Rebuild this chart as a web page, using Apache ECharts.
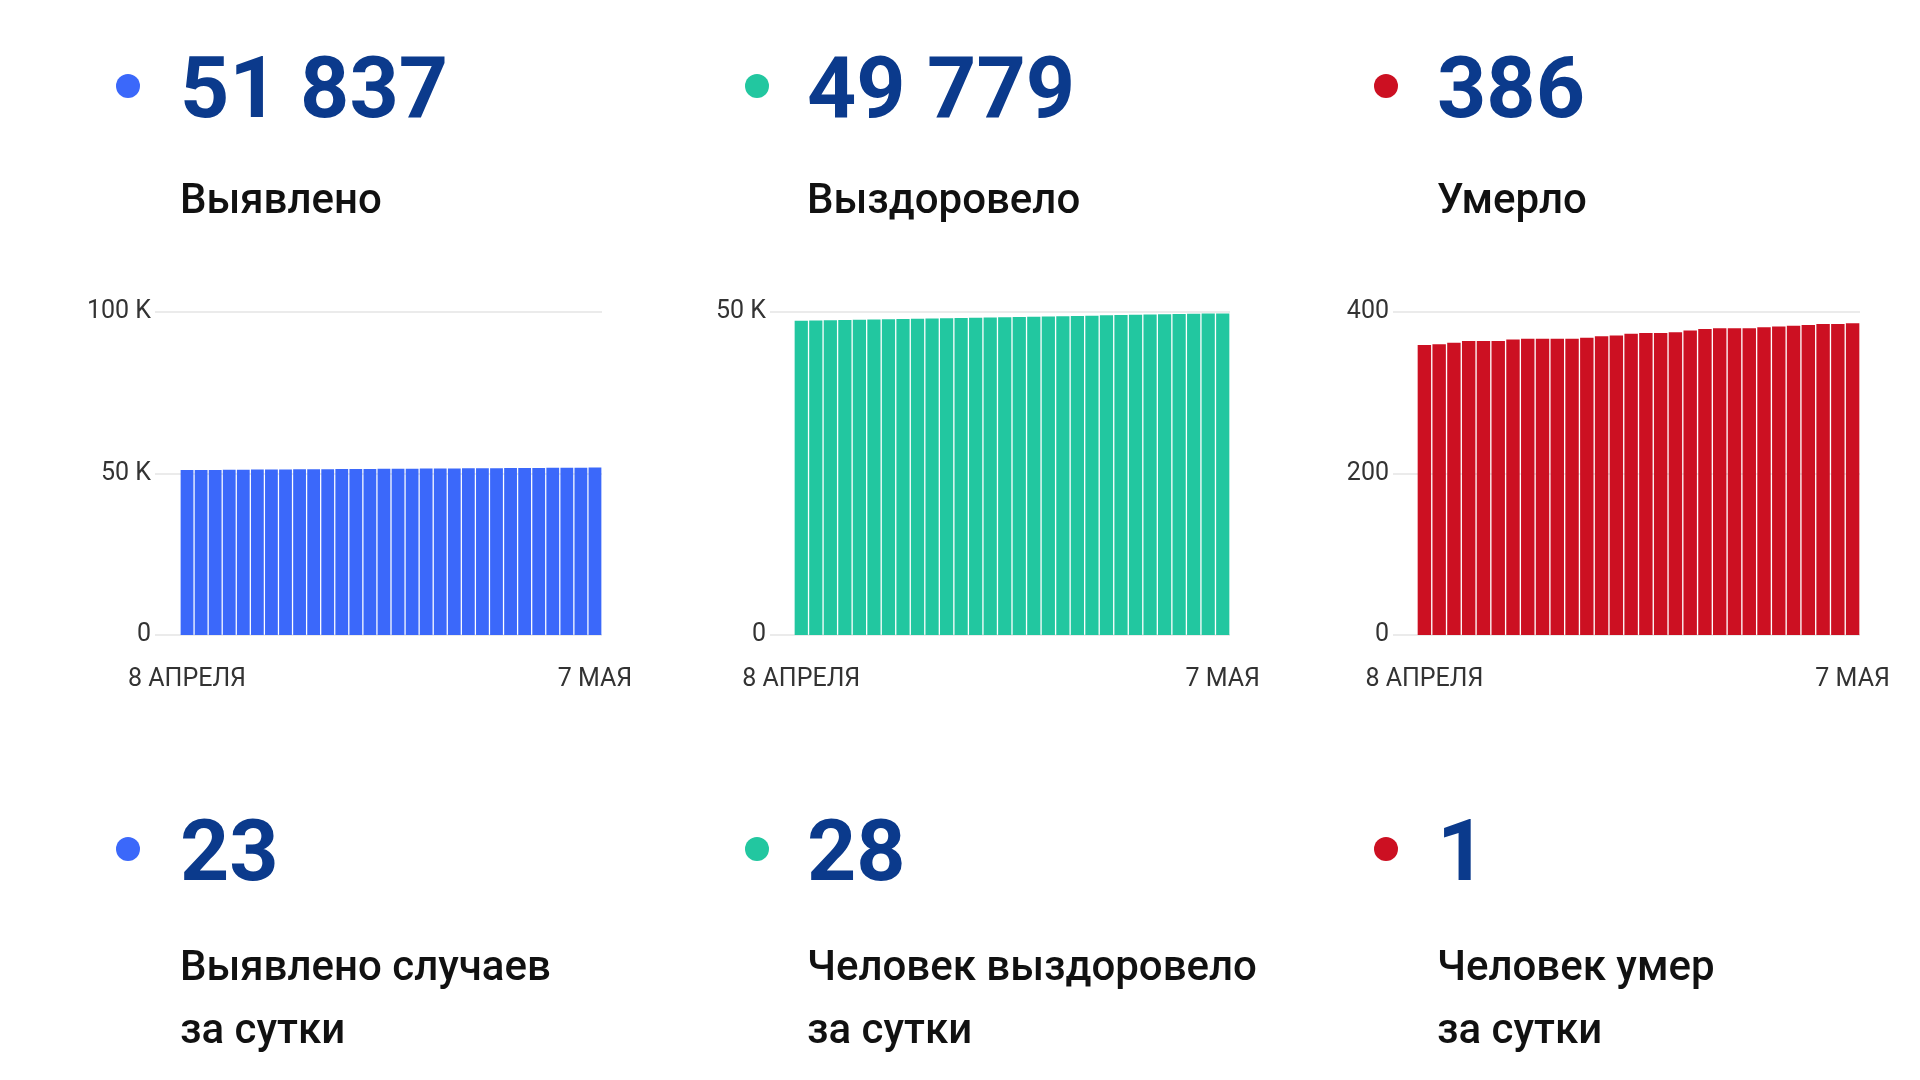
<!DOCTYPE html>
<html>
<head>
<meta charset="utf-8">
<script src="https://cdn.jsdelivr.net/npm/echarts@6/dist/echarts.min.js"></script>
<style>
html,body{margin:0;padding:0;background:#fff;}
#chart{width:1920px;height:1080px;}
</style>
</head>
<body>
<div id="chart"></div>
<script>
// ---- data ----
const dates = [
  '8 АПРЕЛЯ','9 АПРЕЛЯ','10 АПРЕЛЯ','11 АПРЕЛЯ','12 АПРЕЛЯ','13 АПРЕЛЯ','14 АПРЕЛЯ','15 АПРЕЛЯ',
  '16 АПРЕЛЯ','17 АПРЕЛЯ','18 АПРЕЛЯ','19 АПРЕЛЯ','20 АПРЕЛЯ','21 АПРЕЛЯ','22 АПРЕЛЯ','23 АПРЕЛЯ',
  '24 АПРЕЛЯ','25 АПРЕЛЯ','26 АПРЕЛЯ','27 АПРЕЛЯ','28 АПРЕЛЯ','29 АПРЕЛЯ','30 АПРЕЛЯ',
  '1 МАЯ','2 МАЯ','3 МАЯ','4 МАЯ','5 МАЯ','6 МАЯ','7 МАЯ'
];
const detected = [51065,51094,51120,51147,51175,51201,51228,51256,51281,51308,51334,51363,51390,51416,51444,
  51471,51496,51523,51551,51577,51604,51633,51659,51684,51711,51739,51765,51790,51814,51837];
const recovered = [48629,48673,48712,48753,48796,48834,48874,48916,48955,48996,49033,49078,49118,49156,49198,
  49237,49278,49321,49357,49397,49435,49479,49518,49560,49597,49637,49678,49716,49751,49779];
const died = [359,360,362,364,364,364,366,367,367,367,367,368,370,371,373,374,374,375,377,379,380,380,380,381,
  382,383,384,385,385,386];

const totalValues = ['51 837','49 779','386'];
const totalLabels = ['Выявлено','Выздоровело','Умерло'];
const dailyValues = ['23','28','1'];
const dailyLabels = [['Выявлено случаев','за сутки'],['Человек выздоровело','за сутки'],['Человек умер','за сутки']];
const yTicks1 = {max:100000, interval:50000};
const yTicks2 = {max:50000, interval:50000};
const yTicks3 = {max:400, interval:200};

// ---- style/layout ----
const colors = ['#3b68fa','#22c7a0','#cc1022'];
const numColor = '#0b3a8c';
const FONT = 'Roboto';
const cols = [
  {dot:128, text:180, gridLine:155, barL:180, barR:602},
  {dot:757, text:807, gridLine:770, barL:794, barR:1230},
  {dot:1386, text:1437, gridLine:1393, barL:1417, barR:1860}
];
const gTop = 312, gH = 323;
const ticks = [yTicks1, yTicks2, yTicks3];
const seriesData = [detected, recovered, died];

const grids = [], xAxes = [], yAxes = [], series = [];
cols.forEach((c, i) => {
  grids.push({left:c.gridLine, top:gTop, width:c.barR - c.gridLine, height:gH});
  xAxes.push({gridIndex:2*i, type:'value', show:false});
  yAxes.push({gridIndex:2*i, type:'value', min:0, max:ticks[i].max, interval:ticks[i].interval,
    axisLine:{show:false}, axisTick:{show:false},
    splitLine:{lineStyle:{color:'#ebebeb', width:2}},
    axisLabel:{color:'#333', fontFamily:FONT, fontSize:25, margin:4, padding:[4,0,0,0],
      formatter: v => (i < 2 && v > 0) ? (v/1000) + ' K' : String(v)}});
  grids.push({left:c.barL, top:gTop, width:c.barR - c.barL, height:gH});
  xAxes.push({gridIndex:2*i+1, type:'category', data:dates,
    axisLine:{show:false}, axisTick:{show:false},
    axisLabel:{color:'#333', fontFamily:FONT, fontSize:25, margin:32,
      interval:(idx) => idx === 0 || idx === dates.length - 1, hideOverlap:false}});
  yAxes.push({gridIndex:2*i+1, type:'value', min:0, max:ticks[i].max, show:false, splitLine:{show:false}});
  series.push({type:'bar', xAxisIndex:2*i+1, yAxisIndex:2*i+1, data:seriesData[i],
    barCategoryGap:'9%', itemStyle:{color:colors[i]}, silent:true});
});

const graphic = [];
cols.forEach((c, i) => {
  graphic.push({type:'circle', shape:{cx:c.dot, cy:86, r:12}, style:{fill:colors[i]}});
  graphic.push({type:'circle', shape:{cx:c.dot, cy:849, r:12}, style:{fill:colors[i]}});
  graphic.push({type:'text', x:c.text, y:95, style:{text:totalValues[i], fill:numColor,
    font:'bold 86px ' + FONT, align:'left', verticalAlign:'middle'}});
  graphic.push({type:'text', x:c.text, y:202, style:{text:totalLabels[i], fill:'#111',
    font:'500 42px ' + FONT, align:'left', verticalAlign:'middle'}});
  graphic.push({type:'text', x:c.text, y:858, style:{text:dailyValues[i], fill:numColor,
    font:'bold 86px ' + FONT, align:'left', verticalAlign:'middle'}});
  graphic.push({type:'text', x:c.text, y:969, style:{text:dailyLabels[i][0], fill:'#111',
    font:'500 42px ' + FONT, align:'left', verticalAlign:'middle'}});
  graphic.push({type:'text', x:c.text, y:1032, style:{text:dailyLabels[i][1], fill:'#111',
    font:'500 42px ' + FONT, align:'left', verticalAlign:'middle'}});
});

const chart = echarts.init(document.getElementById('chart'), null, {renderer:'canvas'});
chart.setOption({
  animation:false,
  backgroundColor:'#fff',
  grid:grids, xAxis:xAxes, yAxis:yAxes, series:series, graphic:graphic
});
</script>
</body>
</html>
